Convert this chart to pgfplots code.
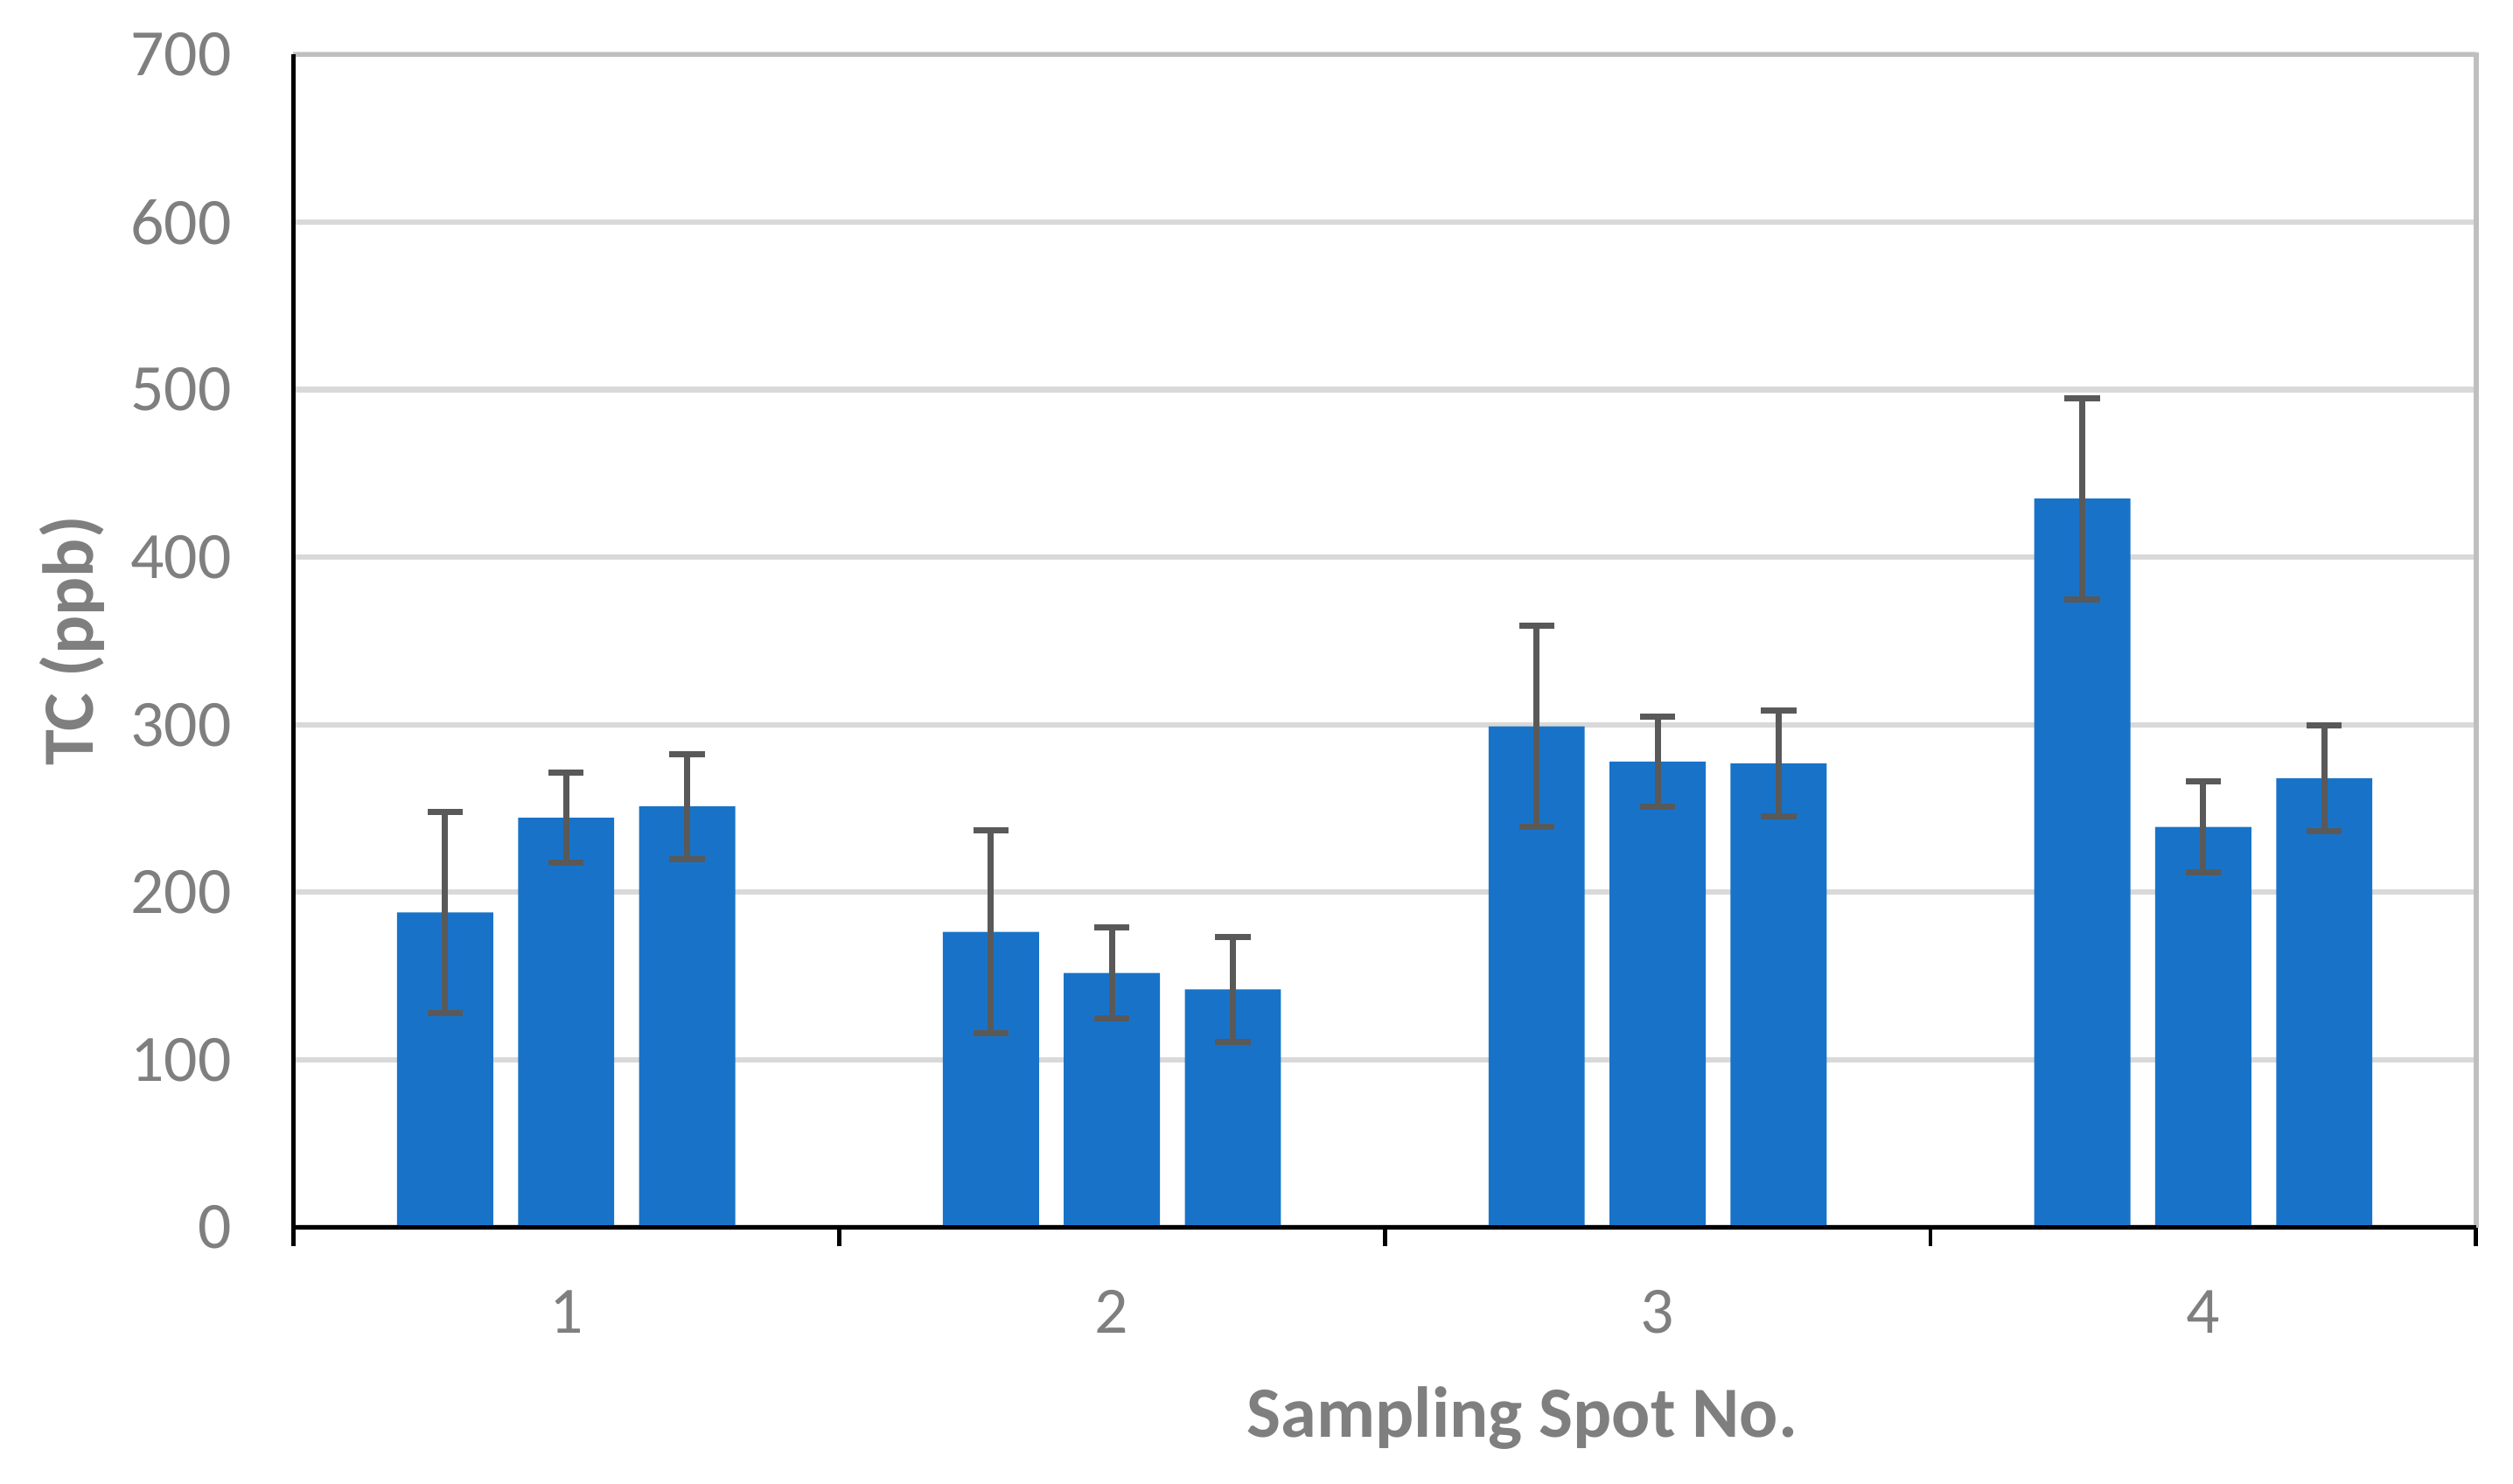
\documentclass[border=0pt]{standalone}
\usepackage{pgfplots}
\pgfplotsset{compat=1.18}
\usepackage{fontspec}
\setmainfont{Carlito}
\definecolor{barblue}{HTML}{1873C8}
\definecolor{errgray}{HTML}{595959}
\definecolor{txtgray}{HTML}{7F7F7F}
\definecolor{gridgray}{HTML}{D9D9D9}
\definecolor{spinegray}{HTML}{BFBFBF}
\begin{document}
\begin{tikzpicture}
\useasboundingbox (-54.9pt,-48pt) rectangle (415.5pt,229.8pt);
\begin{axis}[
  scale only axis,
  width=408.6pt, height=219.6pt,
  xmin=0.5, xmax=4.5, ymin=0, ymax=700,
  axis line style={draw=none},
  clip=false,
  xtick pos=lower,
  ytick pos=left,
  xtick={1,2,3,4},
  xticklabels={1,2,3,4},
  major x tick style={draw=none},
  minor xtick={0.5,1.5,2.5,3.5,4.5},
  minor x tick style={black, line width=0.8pt},
  minor tick length=3.5pt,
  tick align=outside,
  x tick label style={yshift=-4pt},
  ytick={0,100,...,700},
  major y tick style={draw=none},
  y tick label style={xshift=-3.8pt},
  ymajorgrids,
  grid style={gridgray, line width=1pt},
  ticklabel style={font=\fontsize{12.4}{14}\selectfont, text=txtgray},
  /pgf/number format/assume math mode=true,
  xlabel={\textbf{Sampling Spot No.}},
  xlabel style={font=\fontsize{13.5}{16}\selectfont, text=txtgray, at={(axis description cs:0.563,-0.1626)}, anchor=center},
  ylabel={\textbf{TC (ppb)}},
  ylabel style={font=\fontsize{13.5}{16}\selectfont, text=txtgray, at={(axis description cs:-0.1013,0.5)}, anchor=center},
]
\addplot[ybar, bar width=18pt, bar shift=0pt, fill=barblue, draw=none,
  error bars/.cd, y dir=both, y explicit,
  error bar style={errgray, line width=1.15pt},
  error mark options={errgray, line width=1.15pt, mark size=3.3pt, rotate=90}]
coordinates {
 (0.7783,188) +- (0,60)
 (1,244.4) +- (0,27)
 (1.2217,251.2) +- (0,31.4)
 (1.7783,176.4) +- (0,60.5)
 (2,151.8) +- (0,27)
 (2.2217,142) +- (0,31.4)
 (2.7783,299) +- (0,60.2)
 (3,278) +- (0,27)
 (3.2217,277) +- (0,31.5)
 (3.7783,435) +- (0,60)
 (4,239) +- (0,27)
 (4.2217,268.1) +- (0,31.5)
};
\draw[spinegray, line width=0.9pt] (rel axis cs:0,1) -- (rel axis cs:1,1) -- (rel axis cs:1,0);
\draw[black, line width=0.85pt] (rel axis cs:0,1) -- (rel axis cs:0,0) -- (rel axis cs:1,0);
\end{axis}
\end{tikzpicture}
\end{document}
